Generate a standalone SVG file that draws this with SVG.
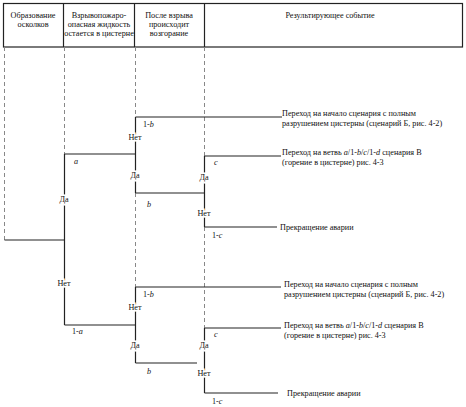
<svg xmlns="http://www.w3.org/2000/svg" width="466" height="407" viewBox="0 0 466 407">
<style>
text{font-family:"Liberation Serif","Times New Roman",serif;font-size:8.2px;fill:#111}
.c{text-anchor:middle}
.i{font-style:italic}
.h{stroke:#fff;stroke-width:3}
.s{stroke:#222;stroke-width:1.2;fill:none}
.d{stroke:#888;stroke-width:1;stroke-dasharray:4 3;fill:none}
</style>
<rect width="466" height="407" fill="#fff"/>
<g id="header">
<rect x="3.5" y="3.5" width="459" height="43.5" class="s"/>
<line x1="63.5" y1="3.5" x2="63.5" y2="47" class="s"/>
<line x1="134.5" y1="3.5" x2="134.5" y2="47" class="s"/>
<line x1="204.5" y1="3.5" x2="204.5" y2="47" class="s"/>
<text class="c" x="33" y="18">Образование</text>
<text class="c" x="33" y="27">осколков</text>
<text class="c" x="99" y="18">Взрывопожаро-</text>
<text class="c" x="99" y="27">опасная жидкость</text>
<text class="c" x="99" y="36">остается в цистерне</text>
<text class="c" x="169" y="18">После взрыва</text>
<text class="c" x="169" y="27">происходит</text>
<text class="c" x="169" y="36">возгорание</text>
<text class="c" x="330" y="18">Результирующее событие</text>
</g>
<g id="connectors">
<path class="d" d="M4.5 47V240 M64.5 47V154 M135.5 47V117 M135.5 193V287 M204.5 47V156 M204.5 227V328"/>
<path class="s" d="M4.5 240H64.5 M64.5 154V325 M64.5 154H135.5 M135.5 117V193 M135.5 117H282 M135.5 193H204.5 M204.5 156V227 M204.5 156H281 M204.5 227H277"/>
<path class="s" d="M64.5 325H135.5 M135.5 287V363 M135.5 287H281 M135.5 363H197 M204.5 328V393 M204.5 328H281 M204.5 393H278"/>
</g>
<g id="labels">
<text class="i" x="74" y="164">a</text>
<text class="c h" x="64" y="202">Да</text>
<text class="c" x="64" y="202">Да</text>
<text class="c h" x="64" y="286">Нет</text>
<text class="c" x="64" y="286">Нет</text>
<text x="72" y="334">1-<tspan class="i">a</tspan></text>
<text x="143" y="127">1-<tspan class="i">b</tspan></text>
<text class="c h" x="135" y="140">Нет</text>
<text class="c" x="135" y="140">Нет</text>
<text class="c h" x="135" y="178">Да</text>
<text class="c" x="135" y="178">Да</text>
<text class="i" x="147" y="207">b</text>
<text class="i" x="214" y="165">c</text>
<text class="c h" x="204" y="180">Да</text>
<text class="c" x="204" y="180">Да</text>
<text class="c h" x="204" y="216">Нет</text>
<text class="c" x="204" y="216">Нет</text>
<text x="212" y="238">1-<tspan class="i">c</tspan></text>
<text x="143" y="297">1-<tspan class="i">b</tspan></text>
<text class="c h" x="135" y="310">Нет</text>
<text class="c" x="135" y="310">Нет</text>
<text class="c h" x="135" y="348">Да</text>
<text class="c" x="135" y="348">Да</text>
<text class="i" x="147" y="374">b</text>
<text class="i" x="214" y="337">c</text>
<text class="c h" x="204" y="348">Да</text>
<text class="c" x="204" y="348">Да</text>
<text class="c h" x="204" y="376">Нет</text>
<text class="c" x="204" y="376">Нет</text>
<text x="212" y="404">1-<tspan class="i">c</tspan></text>
</g>
<g id="outcome1">
<text x="282" y="116">Переход на начало сценария  с полным</text>
<text x="282" y="126">разрушением цистерны (сценарий Б, рис. 4-2)</text>
</g>
<g id="outcome2">
<text x="282" y="155">Переход на ветвь <tspan class="i">a</tspan>/1-<tspan class="i">b</tspan>/<tspan class="i">c</tspan>/1-<tspan class="i">d</tspan> сценария В</text>
<text x="282" y="165">(горение в цистерне) рис. 4-3</text>
</g>
<g id="outcome3">
<text x="280" y="230">Прекращение аварии</text>
</g>
<g id="outcome4">
<text x="284" y="287">Переход на начало сценария  с полным</text>
<text x="284" y="297">разрушением цистерны (сценарий Б, рис. 4-2)</text>
</g>
<g id="outcome5">
<text x="284" y="328">Переход на ветвь <tspan class="i">a</tspan>/1-<tspan class="i">b</tspan>/<tspan class="i">c</tspan>/1-<tspan class="i">d</tspan> сценария В</text>
<text x="284" y="338">(горение в цистерне) рис. 4-3</text>
</g>
<g id="outcome6">
<text x="287" y="396">Прекращение аварии</text>
</g>
</svg>
